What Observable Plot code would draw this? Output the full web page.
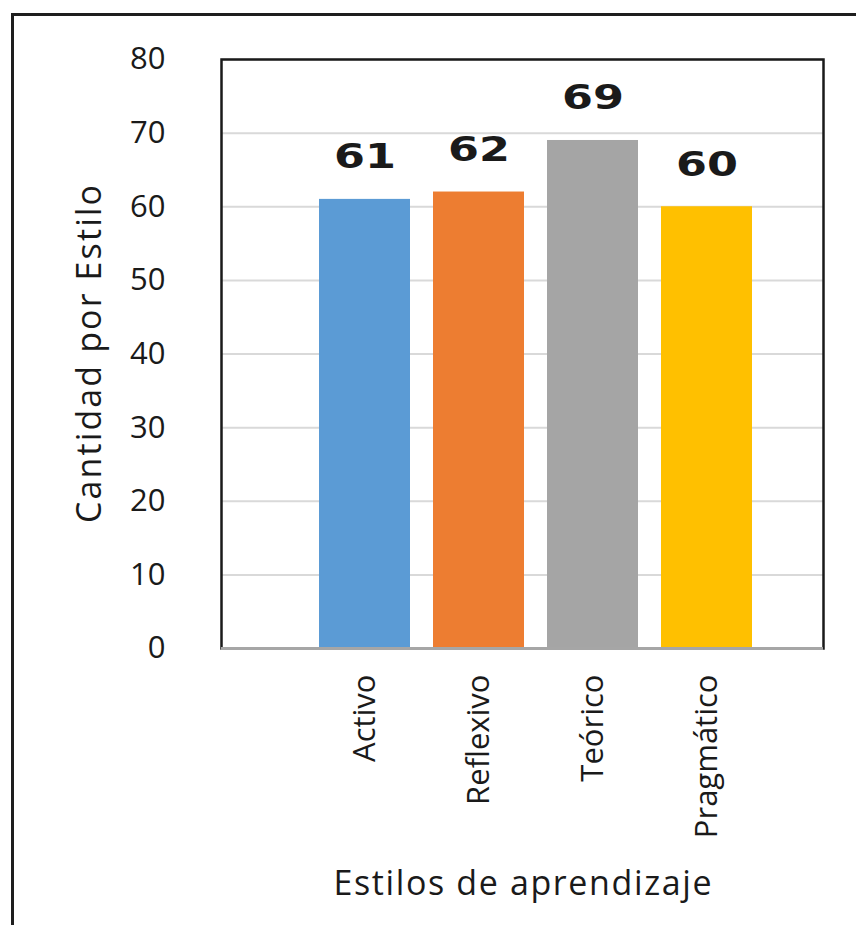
<!DOCTYPE html>
<html>
<head>
<meta charset="utf-8">
<script src="https://cdn.jsdelivr.net/npm/d3@7"></script>
<script src="https://cdn.jsdelivr.net/npm/@observablehq/plot@0.6"></script>
<style>
  html, body { margin: 0; padding: 0; background: #fff; }
  #wrap { position: relative; width: 856px; height: 925px; overflow: hidden; }
  #border { position: absolute; left: 11px; top: 13px; right: -10px; bottom: -10px;
            border-top: 3px solid #1e1e1e; border-left: 3px solid #1e1e1e; }
  #chart { position: absolute; left: 0; top: 0; }
</style>
</head>
<body>
<div id="wrap"><div id="border"></div><div id="chart"></div></div>
<script>
const categories = ["Activo", "Reflexivo", "Teórico", "Pragmático"];
const values = [61, 62, 69, 60];
const colors = ["#5b9bd5", "#ed7d31", "#a5a5a5", "#ffc000"];
const yTicks = [0, 10, 20, 30, 40, 50, 60, 70, 80];
const yLabel = "Cantidad por Estilo";
const xLabel = "Estilos de aprendizaje";

const data = categories.map((c, i) => ({category: c, value: values[i]}));
const font = "'Open Sans', Lato, sans-serif";

const chart = Plot.plot({
  width: 856,
  height: 925,
  marginLeft: 221,
  marginRight: 33,
  marginTop: 59,
  marginBottom: 277,
  style: {fontFamily: font, fontSize: "31px", color: "#1a1a1a", background: "transparent"},
  x: {domain: categories, range: [308, 764], paddingInner: 0.2, paddingOuter: 0.1},
  y: {domain: [0, 80]},
  color: {domain: categories, range: colors},
  marks: [
    Plot.gridY(yTicks, {stroke: "#d9d9d9", strokeOpacity: 1, strokeWidth: 2}),
    Plot.barY(data, {x: "category", y: "value", fill: "category"}),
    Plot.frame({stroke: "#1a1a1a", strokeWidth: 2.5}),
    Plot.ruleY([0], {stroke: "#a6a6a6", strokeWidth: 3}),
    Plot.axisY(yTicks, {tickSize: 0, tickPadding: 56, label: yLabel, labelAnchor: "center", labelArrow: "none", labelOffset: 145, fontSize: 31}),
    Plot.axisX({tickSize: 0, tickPadding: 26, tickRotate: -90, label: xLabel, labelAnchor: "center", labelArrow: "none", labelOffset: 246, fontSize: 31}),
    Plot.text(data, {x: "category", y: "value", text: d => String(d.value), dy: -42, fontSize: 34, fontWeight: 600, fontFamily: "'DejaVu Sans', Verdana, sans-serif", fill: "#1a1a1a", lineAnchor: "middle", className: "vlabel"})
  ]
});
document.getElementById("chart").appendChild(chart);
// stretch value labels horizontally like the reference
d3.select(chart).selectAll("g.vlabel text").attr("textLength", 62).attr("lengthAdjust", "spacingAndGlyphs");
// larger axis titles with slightly wide letter spacing, as in the reference
d3.select(chart).selectAll('g[aria-label="y-axis label"] text').attr("font-size", 34).attr("textLength", 338).attr("lengthAdjust", "spacing");
d3.select(chart).selectAll('g[aria-label="x-axis label"] text').attr("font-size", 34).attr("textLength", 378).attr("lengthAdjust", "spacing");
</script>
</body>
</html>
